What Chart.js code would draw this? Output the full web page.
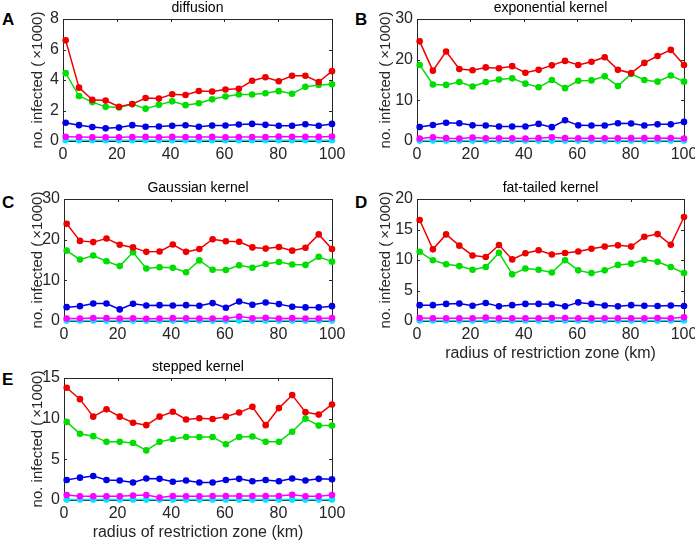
<!DOCTYPE html>
<html>
<head>
<meta charset="utf-8">
<script src="https://cdn.jsdelivr.net/npm/chart.js@4"></script>
<style>
  body { margin: 0; width: 695px; height: 542px; overflow: hidden; background: #fff; position: relative; font-family: "Liberation Sans", Arial, sans-serif; }
  canvas { position: absolute; }
  .lab { position: absolute; font-weight: bold; font-size: 17px; line-height: 17px; color: #000; }
</style>
</head>
<body>
<div class="lab" style="left:2px;top:11px">A</div>
<div class="lab" style="left:355px;top:11px">B</div>
<div class="lab" style="left:2px;top:194px">C</div>
<div class="lab" style="left:355px;top:194px">D</div>
<div class="lab" style="left:2px;top:371px">E</div>
<canvas id="cA" width="345" height="175" style="left:0;top:0"></canvas>
<canvas id="cB" width="345" height="175" style="left:350px;top:0"></canvas>
<canvas id="cC" width="345" height="175" style="left:0;top:180px"></canvas>
<canvas id="cD" width="345" height="183" style="left:350px;top:180px"></canvas>
<canvas id="cE" width="345" height="183" style="left:0;top:359px"></canvas>
<script>
// radius of restriction zone (km)
const radius = [1, 5.95, 10.9, 15.85, 20.8, 25.75, 30.7, 35.65, 40.6, 45.55, 50.5, 55.45, 60.4, 65.35, 70.3, 75.25, 80.2, 85.15, 90.1, 95.05, 100];
const xTicks = [0, 20, 40, 60, 80, 100];

// A - diffusion
const diffRed     = [6.6, 3.5, 2.7, 2.65, 2.25, 2.42, 2.82, 2.78, 3.07, 3.02, 3.28, 3.24, 3.38, 3.42, 3.95, 4.18, 3.92, 4.28, 4.28, 3.87, 4.58];
const diffGreen   = [4.45, 2.95, 2.55, 2.24, 2.2, 2.42, 2.12, 2.37, 2.6, 2.35, 2.48, 2.74, 2.92, 3.05, 3.05, 3.13, 3.27, 3.1, 3.55, 3.67, 3.72];
const diffBlue    = [1.2, 1.04, 0.92, 0.83, 0.88, 1.04, 0.93, 0.95, 1.0, 1.03, 0.93, 1.01, 1.02, 1.08, 1.12, 1.06, 1.0, 1.0, 1.1, 1.0, 1.12];
const diffMagenta = [0.28, 0.26, 0.25, 0.25, 0.25, 0.26, 0.27, 0.25, 0.27, 0.26, 0.26, 0.27, 0.25, 0.26, 0.26, 0.26, 0.3, 0.28, 0.28, 0.27, 0.3];
const diffCyan    = [0.05, 0.05, 0.05, 0.05, 0.05, 0.05, 0.05, 0.05, 0.05, 0.05, 0.05, 0.05, 0.05, 0.05, 0.05, 0.05, 0.05, 0.05, 0.05, 0.05, 0.05];

// B - exponential kernel
const expRed     = [24.5, 17.3, 22.0, 17.7, 17.4, 18.1, 17.9, 18.4, 16.8, 17.5, 18.6, 19.7, 18.7, 19.5, 20.6, 17.5, 16.7, 19.2, 20.9, 22.4, 18.7];
const expGreen   = [18.7, 13.9, 13.8, 14.5, 13.4, 14.5, 15.1, 15.4, 14.1, 13.2, 15.0, 13.0, 14.8, 14.9, 15.9, 13.5, 16.5, 15.0, 14.6, 16.1, 14.6];
const expBlue    = [3.45, 3.95, 4.5, 4.35, 3.85, 3.8, 3.55, 3.55, 3.55, 4.2, 3.4, 5.1, 3.85, 3.8, 3.8, 4.35, 4.3, 3.8, 4.1, 4.1, 4.7];
const expMagenta = [0.6, 0.9, 0.7, 0.6, 0.85, 0.65, 0.65, 0.65, 0.6, 0.7, 0.9, 0.7, 0.65, 0.7, 0.65, 0.65, 0.7, 0.7, 0.7, 0.75, 0.6];
const expCyan    = [0.1, 0.1, 0.1, 0.1, 0.1, 0.1, 0.1, 0.1, 0.1, 0.1, 0.1, 0.1, 0.1, 0.1, 0.1, 0.1, 0.1, 0.1, 0.1, 0.1, 0.1];

// C - Gaussian kernel
const gaussRed     = [23.9, 19.7, 19.4, 20.3, 18.75, 18.1, 17.0, 17.1, 18.8, 17.0, 17.7, 20.1, 19.6, 19.5, 18.1, 17.8, 18.2, 17.3, 18.0, 21.3, 17.7];
const gaussGreen   = [17.3, 15.1, 16.1, 14.7, 13.5, 16.9, 12.9, 13.2, 13.1, 12.0, 14.9, 12.6, 12.55, 13.7, 13.1, 14.0, 14.5, 13.9, 13.8, 15.8, 14.6];
const gaussBlue    = [3.4, 3.65, 4.3, 4.3, 2.85, 4.25, 3.8, 3.9, 3.8, 3.9, 3.75, 4.4, 3.25, 4.8, 4.0, 4.55, 4.15, 3.5, 3.35, 3.35, 3.65];
const gaussMagenta = [0.6, 0.6, 0.75, 0.7, 0.6, 0.65, 0.55, 0.6, 0.7, 0.65, 0.6, 0.6, 0.6, 1.1, 0.65, 0.8, 0.6, 0.7, 0.6, 0.6, 0.75];
const gaussCyan    = [0.1, 0.1, 0.1, 0.1, 0.1, 0.1, 0.1, 0.1, 0.1, 0.1, 0.1, 0.1, 0.1, 0.1, 0.1, 0.1, 0.1, 0.1, 0.1, 0.1, 0.1];

// D - fat-tailed kernel
const fatRed     = [16.55, 11.75, 14.2, 12.35, 10.75, 10.5, 12.45, 10.1, 11.1, 11.6, 10.9, 11.15, 11.4, 11.85, 12.2, 12.4, 12.2, 13.8, 14.25, 12.5, 17.05];
const fatGreen   = [11.35, 9.95, 9.3, 9.0, 8.4, 8.85, 11.2, 7.65, 8.6, 8.4, 7.95, 9.95, 8.3, 7.85, 8.3, 9.2, 9.4, 10.05, 9.7, 8.85, 7.85];
const fatBlue    = [2.6, 2.6, 2.8, 2.85, 2.5, 2.95, 2.4, 2.6, 2.8, 2.8, 2.75, 2.4, 3.05, 2.8, 2.55, 2.4, 2.6, 2.5, 2.45, 2.55, 2.45];
const fatMagenta = [0.5, 0.45, 0.45, 0.45, 0.45, 0.55, 0.45, 0.45, 0.45, 0.45, 0.5, 0.5, 0.45, 0.45, 0.45, 0.45, 0.45, 0.45, 0.5, 0.45, 0.6];
const fatCyan    = [0.08, 0.08, 0.08, 0.08, 0.08, 0.08, 0.08, 0.08, 0.08, 0.08, 0.08, 0.08, 0.08, 0.08, 0.08, 0.08, 0.08, 0.08, 0.08, 0.08, 0.08];

// E - stepped kernel
const stepRed     = [13.8, 12.4, 10.25, 11.15, 10.25, 9.5, 9.2, 10.25, 10.85, 9.9, 10.05, 9.95, 10.25, 10.75, 11.45, 9.2, 11.3, 12.9, 10.8, 10.5, 11.75];
const stepGreen   = [9.6, 8.15, 7.85, 7.15, 7.15, 7.0, 6.1, 7.15, 7.5, 7.75, 7.75, 7.75, 6.85, 7.75, 7.8, 7.15, 7.15, 8.4, 10.0, 9.15, 9.15];
const stepBlue    = [2.45, 2.75, 2.95, 2.45, 2.4, 2.15, 2.65, 2.6, 2.25, 2.4, 2.15, 2.15, 2.45, 2.6, 2.3, 2.45, 2.3, 2.65, 2.4, 2.6, 2.55];
const stepMagenta = [0.6, 0.45, 0.45, 0.45, 0.45, 0.55, 0.6, 0.3, 0.5, 0.45, 0.45, 0.5, 0.5, 0.5, 0.5, 0.5, 0.5, 0.65, 0.45, 0.45, 0.6];
const stepCyan    = [0.05, 0.05, 0.05, 0.05, 0.05, 0.05, 0.05, 0.05, 0.05, 0.05, 0.05, 0.05, 0.05, 0.05, 0.05, 0.05, 0.05, 0.05, 0.05, 0.05, 0.05];

const colors = ['#ee0000', '#00dd00', '#0000e6', '#ff00ff', '#00e8ff'];
const axisColor = '#262626';
const FONT = '"Liberation Sans", Arial, sans-serif';

// matlab style box + inward ticks
const boxPlugin = {
  id: 'mbox',
  beforeDatasetsDraw(chart) {
    const {ctx, chartArea: a, scales: {x, y}} = chart;
    ctx.save();
    ctx.strokeStyle = axisColor;
    ctx.lineWidth = 1;
    ctx.beginPath();
    x.ticks.forEach(t => {
      const px = Math.round(x.getPixelForValue(t.value)) + 0.5;
      ctx.moveTo(px, a.bottom); ctx.lineTo(px, a.bottom - 3);
      ctx.moveTo(px, a.top); ctx.lineTo(px, a.top + 3);
    });
    y.ticks.forEach(t => {
      const py = Math.round(y.getPixelForValue(t.value)) + 0.5;
      ctx.moveTo(a.left, py); ctx.lineTo(a.left + 3, py);
      ctx.moveTo(a.right, py); ctx.lineTo(a.right - 3, py);
    });
    ctx.stroke();
    ctx.strokeRect(a.left + 0.5, a.top + 0.5, a.right - a.left, a.bottom - a.top);
    ctx.restore();
  }
};

function makePanel(id, title, series, yMax, yStep, yW, padRight, xH, xTitle, yTitlePad) {
  const datasets = series.map((vals, i) => ({
    data: vals.map((v, k) => ({x: radius[k], y: v})),
    borderColor: colors[i],
    backgroundColor: colors[i],
    pointBackgroundColor: colors[i],
    borderWidth: 1.5,
    pointRadius: 3.3,
    pointBorderWidth: 0,
    tension: 0,
    clip: false
  }));
  new Chart(document.getElementById(id), {
    type: 'line',
    data: {datasets},
    plugins: [boxPlugin],
    options: {
      responsive: false,
      animation: false,
      layout: {padding: {top: 0, right: padRight, left: 0, bottom: 0}},
      plugins: {
        legend: {display: false},
        tooltip: {enabled: false},
        title: {display: true, text: title, fullSize: false, color: '#000',
          font: {family: FONT, size: 14, weight: 'normal'}, padding: {top: 0, bottom: 2.2}}
      },
      scales: {
        x: {
          type: 'linear', min: 0, max: 100,
          afterBuildTicks: s => { s.ticks = xTicks.map(v => ({value: v})); },
          afterFit: s => { s.height = xH; s.paddingLeft = 0; s.paddingRight = 0; },
          grid: {display: false, drawTicks: false},
          border: {display: false},
          ticks: {color: axisColor, font: {family: FONT, size: 16}, padding: 4, maxRotation: 0},
          title: {display: !!xTitle, text: xTitle || '', color: axisColor,
            font: {family: FONT, size: 16}, padding: {top: 0, bottom: 0}}
        },
        y: {
          type: 'linear', min: 0, max: yMax,
          ticks: {stepSize: yStep, color: axisColor, font: {family: FONT, size: 16}, padding: 4},
          afterFit: s => { s.width = yW; },
          grid: {display: false, drawTicks: false},
          border: {display: false},
          title: {display: true, text: 'no. infected (\u2009\u00d71000)', color: axisColor,
            font: {family: FONT, size: 15}, padding: {top: yTitlePad, bottom: 0}}
        }
      }
    }
  });
}

makePanel('cA', 'diffusion', [diffRed, diffGreen, diffBlue, diffMagenta, diffCyan], 8, 2, 63, 13, 34, null, 29);
makePanel('cB', 'exponential kernel', [expRed, expGreen, expBlue, expMagenta, expCyan], 30, 10, 67, 11, 34, null, 27);
makePanel('cC', 'Gaussian kernel', [gaussRed, gaussGreen, gaussBlue, gaussMagenta, gaussCyan], 30, 10, 64, 13, 34, null, 29);
makePanel('cD', 'fat-tailed kernel', [fatRed, fatGreen, fatBlue, fatMagenta, fatCyan], 20, 5, 67, 11, 42, 'radius of restriction zone (km)', 27);
makePanel('cE', 'stepped kernel', [stepRed, stepGreen, stepBlue, stepMagenta, stepCyan], 15, 5, 64, 13, 42, 'radius of restriction zone (km)', 29);
</script>
</body>
</html>
